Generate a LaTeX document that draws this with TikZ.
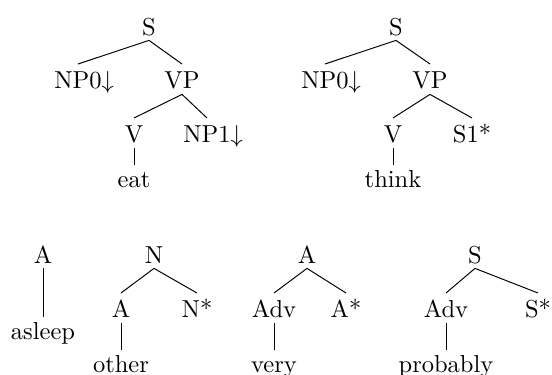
\documentclass[tikz,border=0pt]{standalone}
\usetikzlibrary{positioning}
\tikzset{
	treenode/.style={
			anchor=base,
			inner sep=2pt,
			text height=8pt,
			text depth=0pt
		},
	leafnode/.style={
			treenode,
			text height=7pt
		}
}
\newcommand{\substnode}[1]{#1\rlap{$\downarrow$}}
\begin{document}
\begin{tikzpicture}[x=0.408pt, y=-0.408pt]

  \useasboundingbox (0,0) rectangle (552,375);

  % eat
  \node[treenode] (ts) at (149,35) {S};
  \node[treenode] (tnp0) at (78,89) {\substnode{NP0}};
  \node[treenode] (tvp) at (182,89) {VP};
  \node[treenode] (tv) at (134,143) {V};
  \node[treenode] (tnp1) at (207,143) {\substnode{NP1}};
  \node[leafnode] (teat) at (134,188) {eat};

  \draw (ts.south) -- (tnp0.north);
  \draw (ts.south) -- (tvp.north);
  \draw (tvp.south) -- (tv.north);
  \draw (tvp.south) -- (tnp1.north);
  \draw (tv.south) -- (teat.north);

  % think
  \node[treenode] (us) at (396,35) {S};
  \node[treenode] (unp0) at (325,89) {\substnode{NP0}};
  \node[treenode] (uvp) at (430,89) {VP};
  \node[treenode] (uv) at (393,143) {V};
  \node[treenode] (us1) at (472,143) {S1*};
  \node[leafnode] (uthink) at (393,188) {think};

  \draw (us.south) -- (unp0.north);
  \draw (us.south) -- (uvp.north);
  \draw (uvp.south) -- (uv.north);
  \draw (uvp.south) -- (us1.north);
  \draw (uv.south) -- (uthink.north);

  % asleep
  \node[treenode] (aa) at (43,263) {A};
  \node[leafnode] (aasleep) at (43,340) {asleep};
  \draw (aa.south) -- (aasleep.north);

  % other
  \node[treenode] (bn) at (154,263) {N};
  \node[treenode] (ba) at (121,318) {A};
  \node[treenode] (bnstar) at (197,318) {N*};
  \node[leafnode] (bother) at (121,373) {other};

  \draw (bn.south) -- (ba.north);
  \draw (bn.south) -- (bnstar.north);
  \draw (ba.south) -- (bother.north);

  % very
  \node[treenode] (ca) at (307,263) {A};
  \node[treenode] (cadv) at (274,318) {Adv};
  \node[treenode] (castar) at (346,318) {A*};
  \node[leafnode] (cvery) at (274,373) {very};

  \draw (ca.south) -- (cadv.north);
  \draw (ca.south) -- (castar.north);
  \draw (cadv.south) -- (cvery.north);

  % probably
  \node[treenode] (ds) at (475,263) {S};
  \node[treenode] (dadv) at (446,318) {Adv};
  \node[treenode] (dsstar) at (538,318) {S*};
  \node[leafnode] (dprob) at (446,373) {probably};

  \draw (ds.south) -- (dadv.north);
  \draw (ds.south) -- (dsstar.north);
  \draw (dadv.south) -- (dprob.north);

\end{tikzpicture}
\end{document}
